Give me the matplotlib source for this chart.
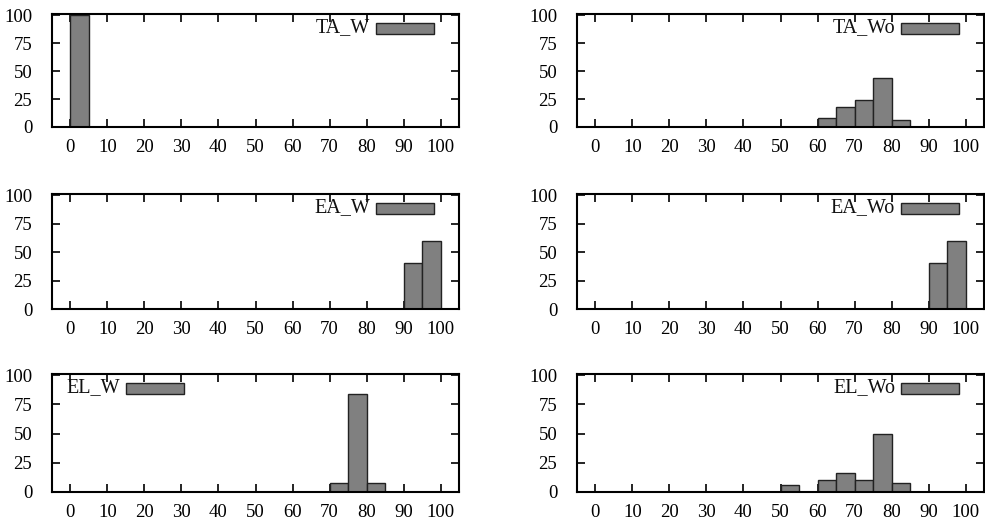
import matplotlib
matplotlib.use("Agg")
import matplotlib.pyplot as plt
from matplotlib.patches import Rectangle

plt.rcParams['font.family'] = ['Liberation Serif', 'DejaVu Serif']

bins = list(range(0, 100, 5))
xticks = list(range(0, 101, 10))
yticks = [0, 25, 50, 75, 100]

def series(d):
    return [d.get(b, 0) for b in bins]

TA_W = series({0: 100})
TA_Wo = series({60: 8, 65: 18, 70: 24, 75: 44, 80: 6})
EA_W = series({90: 40, 95: 60})
EA_Wo = series({90: 40, 95: 60})
EL_W = series({70: 8, 75: 84, 80: 8})
EL_Wo = series({50: 6, 60: 10, 65: 16, 70: 10, 75: 50, 80: 8})

labels = ["TA_W", "TA_Wo", "EA_W", "EA_Wo", "EL_W", "EL_Wo"]
data = [TA_W, TA_Wo, EA_W, EA_Wo, EL_W, EL_Wo]
key_left = [False, False, False, False, True, False]

W, H = 985, 525
fig = plt.figure(figsize=(W / 100, H / 100), dpi=100)

cols = [(51.7, 459.3), (576.7, 984.3)]
rows = [(14, 127), (194, 309), (374, 492)]

for i, (lab, vals) in enumerate(zip(labels, data)):
    r, c = divmod(i, 2)
    x0, x1 = cols[c]
    y0, y1 = rows[r]
    ax = fig.add_axes([x0 / W, 1 - y1 / H, (x1 - x0) / W, (y1 - y0) / H])
    ax.bar(bins, vals, width=5, align='edge', color='#808080',
           edgecolor='#222222', linewidth=1.0, zorder=2)
    ax.set_xlim(-5, 105)
    ax.set_ylim(0, 101)
    ax.set_xticks(xticks)
    ax.set_yticks(yticks)
    ax.tick_params(direction='in', length=6, width=1.2, labelsize=13.5,
                   top=True, right=True, colors='black')
    ax.tick_params(axis='x', pad=8.5)
    ax.tick_params(axis='y', pad=14)
    for sp in ax.spines.values():
        sp.set_linewidth(1.5)
    # key (gnuplot style: text then sample box)
    bw = 58 / (x1 - x0)
    bh = 11 / (y1 - y0)
    if key_left[i]:
        bx = (126 - x0) / (x1 - x0)
    else:
        bx = 1 - (459.3 - 376) / (459.3 - 51.7)
    by = 1 - (14 / (y1 - y0)) - bh / 2
    ax.add_patch(Rectangle((bx, by), bw, bh, transform=ax.transAxes,
                           facecolor='#808080', edgecolor='#222222',
                           linewidth=1.0, zorder=3))
    ax.text(bx - 6 / (x1 - x0), by + bh / 2, lab, transform=ax.transAxes,
            ha='right', va='center', fontsize=14.5, color='#111111')

fig.savefig("out.png", dpi=100)
